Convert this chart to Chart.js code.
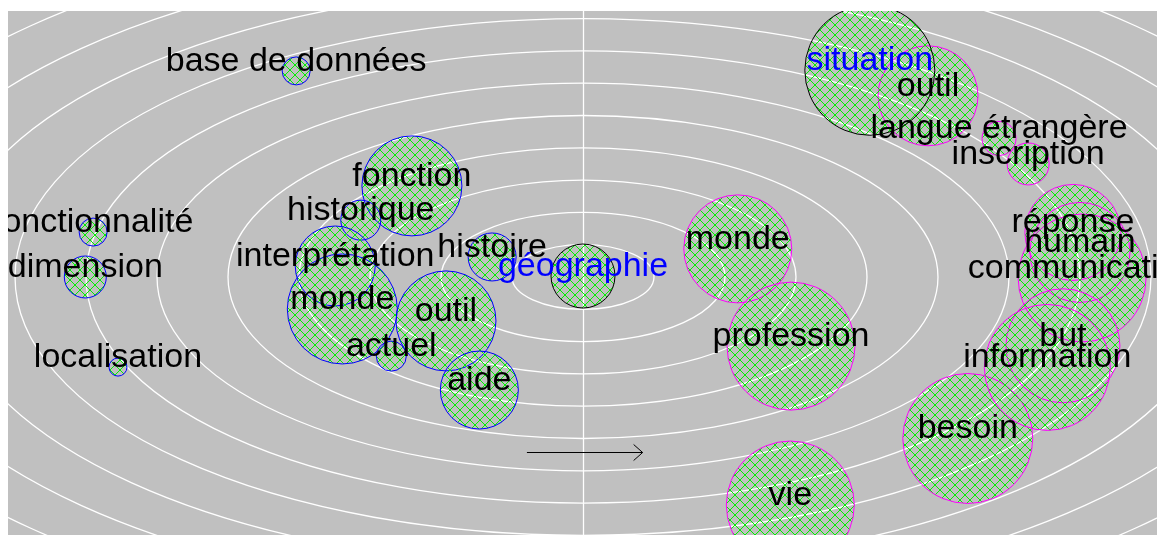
<!DOCTYPE html>
<html>
<head>
<meta charset="utf-8">
<script src="https://cdn.jsdelivr.net/npm/chart.js@4/dist/chart.umd.min.js"></script>
<style>
  body { margin: 0; background: #fff; }
  canvas { display: block; }
</style>
</head>
<body>
<canvas id="carte" width="1157" height="535"></canvas>
<script>
// mots du groupe bleu
var bleuMots = ['base de données', 'fonction', 'historique', 'fonctionnalité', 'dimension',
    'interprétation', 'monde', 'outil', 'actuel', 'aide', 'histoire', 'localisation'];
var bleuX = [-4.04, -2.41, -3.13, -6.90, -7.01, -3.49, -3.39, -1.93, -2.70, -1.46, -1.28, -6.55];
var bleuY = [6.38, 2.82, 1.76, 1.39, 0.00, 0.34, -0.99, -1.36, -2.45, -3.50, 0.62, -2.79];
var bleuR = [14, 50, 20, 14, 21, 40, 55, 50, 15, 39, 24, 9];

// mots pivots (bord noir)
var noirMots = ['géographie', 'situation'];
var noirX = [0.00, 4.04];
var noirY = [0.03, 6.40];
var noirR = [32, 65];

// mots du groupe magenta
var magMots = ['outil', 'langue étrangère', 'inscription', 'monde', 'profession', 'vie',
    'besoin', 'réponse', 'humain', 'communication', 'but', 'information'];
var magX = [4.86, 5.86, 6.27, 2.18, 2.93, 2.92, 5.42, 6.90, 7.00, 7.03, 6.76, 6.54];
var magY = [5.61, 4.29, 3.50, 0.87, -2.14, -7.06, -5.00, 1.38, 0.76, -0.03, -2.13, -2.80];
var magR = [50, 17, 21, 54, 64, 64, 65, 48, 50, 64, 57, 63];

// flèche
var flecheX = [-0.79, 0.84];
var flecheY = [-5.42, -5.42];

var nbEllipses = 12;

// hachures vertes, traits d'un pixel
var hachure = (function () {
    var c = document.createElement('canvas');
    c.width = 10; c.height = 10;
    var g = c.getContext('2d');
    g.fillStyle = '#00f000';
    for (var i = 0; i < 10; i++) {
        g.fillRect(i, i, 1, 1);
        g.fillRect(9 - i, i, 1, 1);
    }
    return g.createPattern(c, 'repeat');
})();

var points = function (xs, ys, rs) {
    return xs.map(function (x, i) { return { x: x, y: ys[i], r: rs[i] }; });
};

// fond gris + ellipses blanches
var fond = {
    id: 'fond',
    beforeDatasetsDraw: function (chart) {
        var ctx = chart.ctx, a = chart.chartArea;
        var sx = chart.scales.x, sy = chart.scales.y;
        ctx.save();
        ctx.beginPath();
        ctx.rect(a.left, a.top, a.right - a.left, a.bottom - a.top);
        ctx.clip();
        ctx.fillStyle = '#c0c0c0';
        ctx.fillRect(a.left, a.top, a.right - a.left, a.bottom - a.top);
        var cx = sx.getPixelForValue(0), cy = sy.getPixelForValue(0);
        ctx.strokeStyle = '#ffffff';
        ctx.lineWidth = 1.3;
        for (var k = 1; k <= nbEllipses; k++) {
            var rx = sx.getPixelForValue(k) - cx;
            var ry = cy - sy.getPixelForValue(k);
            ctx.beginPath();
            ctx.ellipse(cx, cy, rx, ry, 0, 0, Math.PI * 2);
            ctx.stroke();
        }
        ctx.beginPath();
        ctx.moveTo(Math.round(cx) + 0.5, a.top);
        ctx.lineTo(Math.round(cx) + 0.5, a.bottom);
        ctx.stroke();
        ctx.restore();
    },
    afterDatasetsDraw: function (chart) {
        var ctx = chart.ctx, a = chart.chartArea;
        var sx = chart.scales.x, sy = chart.scales.y;
        ctx.save();
        ctx.beginPath();
        ctx.rect(a.left, a.top, a.right - a.left, a.bottom - a.top);
        ctx.clip();
        // flèche
        var x0 = sx.getPixelForValue(flecheX[0]), x1 = sx.getPixelForValue(flecheX[1]);
        var y0 = Math.round(sy.getPixelForValue(flecheY[0])) + 0.5;
        var y1 = Math.round(sy.getPixelForValue(flecheY[1])) + 0.5;
        ctx.strokeStyle = '#000';
        ctx.lineWidth = 1;
        ctx.beginPath();
        ctx.moveTo(x0, y0); ctx.lineTo(x1, y1);
        ctx.moveTo(x1 - 9, y1 - 8); ctx.lineTo(x1, y1); ctx.lineTo(x1 - 9, y1 + 8);
        ctx.stroke();
        // étiquettes
        ctx.font = '34px "Liberation Sans", Arial, sans-serif';
        ctx.textAlign = 'center';
        ctx.textBaseline = 'alphabetic';
        chart.data.datasets.forEach(function (ds, i) {
            var meta = chart.getDatasetMeta(i);
            ctx.fillStyle = ds.couleurTexte;
            meta.data.forEach(function (el, j) {
                ctx.fillText(ds.mots[j], el.x, el.y);
            });
        });
        ctx.restore();
    }
};

new Chart(document.getElementById('carte'), {
    type: 'bubble',
    data: {
        datasets: [{
            data: points(bleuX, bleuY, bleuR),
            mots: bleuMots,
            couleurTexte: '#000000',
            backgroundColor: hachure,
            borderColor: '#0000ff',
            borderWidth: 1
        }, {
            data: points(noirX, noirY, noirR),
            mots: noirMots,
            couleurTexte: '#0000ff',
            backgroundColor: hachure,
            borderColor: '#000000',
            borderWidth: 1
        }, {
            data: points(magX, magY, magR),
            mots: magMots,
            couleurTexte: '#000000',
            backgroundColor: hachure,
            borderColor: '#ff00ff',
            borderWidth: 1
        }]
    },
    options: {
        responsive: false,
        animation: false,
        devicePixelRatio: 1,
        layout: { autoPadding: false, padding: { left: 8, top: 11, right: 0, bottom: 0 } },
        plugins: {
            legend: { display: false },
            tooltip: { enabled: false }
        },
        scales: {
            x: { display: false, min: -8.099, max: 8.085 },
            y: { display: false, min: -7.988, max: 8.235 }
        }
    },
    plugins: [fond]
});
</script>
</body>
</html>
